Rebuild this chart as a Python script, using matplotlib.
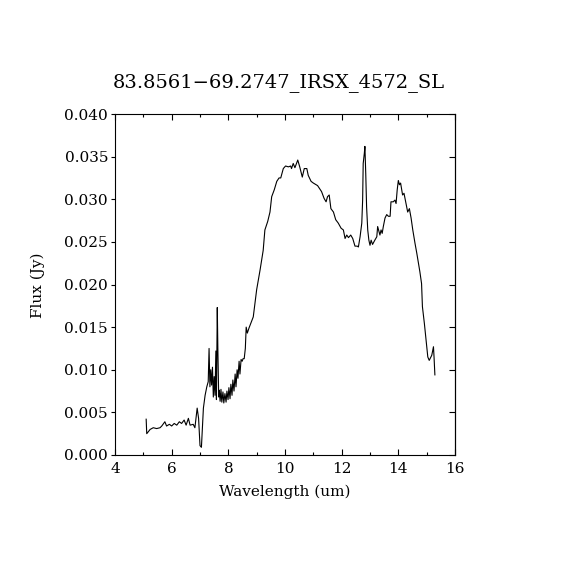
import matplotlib
matplotlib.use('Agg')
import matplotlib.pyplot as plt
from matplotlib.ticker import MultipleLocator, FormatStrFormatter

# Spectrum (wavelength in um, flux in Jy)
wavelength = [
    5.10, 5.12, 5.24, 5.35, 5.47, 5.59, 5.65, 5.76, 5.82, 5.92,
    6.00, 6.09, 6.18, 6.27, 6.35, 6.44, 6.51, 6.59, 6.65, 6.76,
    6.82, 6.90, 6.95, 7.00, 7.05, 7.08, 7.12, 7.18, 7.24, 7.29,
    7.32, 7.35, 7.38, 7.41, 7.44, 7.47, 7.50, 7.53, 7.56, 7.58,
    7.61, 7.63, 7.66, 7.68, 7.71, 7.74, 7.77, 7.81, 7.84, 7.88,
    7.92, 7.95, 7.99, 8.02, 8.06, 8.09, 8.13, 8.16, 8.20, 8.24,
    8.27, 8.31, 8.34, 8.38, 8.41, 8.45, 8.49, 8.52, 8.56, 8.60,
    8.63, 8.67, 8.73, 8.88, 9.00, 9.12, 9.23, 9.29, 9.39, 9.47,
    9.53, 9.62, 9.71, 9.79, 9.85, 9.94, 10.02, 10.12, 10.20, 10.23,
    10.29, 10.35, 10.45, 10.52, 10.61, 10.68, 10.77, 10.82, 10.92, 11.00,
    11.15, 11.29, 11.38, 11.45, 11.50, 11.56, 11.62, 11.71, 11.79, 11.88,
    11.98, 12.06, 12.12, 12.18, 12.24, 12.32, 12.39, 12.47, 12.55, 12.59,
    12.65, 12.71, 12.74, 12.76, 12.80, 12.82, 12.85, 12.88, 12.92, 12.96,
    13.00, 13.04, 13.09, 13.17, 13.24, 13.27, 13.32, 13.35, 13.39, 13.43,
    13.47, 13.53, 13.59, 13.65, 13.71, 13.74, 13.82, 13.88, 13.92, 13.96,
    14.00, 14.04, 14.08, 14.15, 14.20, 14.27, 14.33, 14.39, 14.45, 14.51,
    14.59, 14.65, 14.70, 14.76, 14.82, 14.85, 14.92, 14.98, 15.04, 15.09,
    15.12, 15.18, 15.24, 15.26, 15.29,
]
flux = [
    0.0042, 0.0025, 0.0030, 0.0032, 0.0031, 0.0032, 0.0034, 0.0039, 0.0034, 0.0036,
    0.0034, 0.0037, 0.0035, 0.0039, 0.0037, 0.0041, 0.0035, 0.0043, 0.0035, 0.0036,
    0.0032, 0.0055, 0.0043, 0.0011, 0.0009, 0.0029, 0.0055, 0.0070, 0.0080, 0.0086,
    0.0125, 0.0080, 0.0100, 0.0082, 0.0103, 0.0068, 0.0092, 0.0070, 0.0122, 0.0065,
    0.0173, 0.0125, 0.0068, 0.0076, 0.0063, 0.0077, 0.0062, 0.0074, 0.0061, 0.0072,
    0.0062, 0.0075, 0.0065, 0.0079, 0.0066, 0.0083, 0.0070, 0.0088, 0.0075, 0.0095,
    0.0080, 0.0100, 0.0090, 0.0110, 0.0095, 0.0112, 0.0110, 0.0113, 0.0113, 0.0125,
    0.0150, 0.0143, 0.0149, 0.0162, 0.0194, 0.0217, 0.0240, 0.0264, 0.0274, 0.0285,
    0.0303, 0.0311, 0.0321, 0.0325, 0.0325, 0.0336, 0.0339, 0.0338, 0.0339, 0.0336,
    0.0342, 0.0337, 0.0346, 0.0338, 0.0326, 0.0336, 0.0336, 0.0328, 0.0321, 0.0319,
    0.0316, 0.0309, 0.0301, 0.0297, 0.0303, 0.0305, 0.0289, 0.0285, 0.0276, 0.0272,
    0.0266, 0.0264, 0.0254, 0.0258, 0.0255, 0.0258, 0.0254, 0.0245, 0.0245, 0.0244,
    0.0256, 0.0272, 0.0299, 0.0342, 0.0354, 0.0362, 0.0330, 0.0291, 0.0264, 0.0252,
    0.0246, 0.0252, 0.0247, 0.0252, 0.0256, 0.0268, 0.0262, 0.0258, 0.0264, 0.0260,
    0.0268, 0.0278, 0.0282, 0.0280, 0.0280, 0.0297, 0.0297, 0.0299, 0.0295, 0.0311,
    0.0322, 0.0317, 0.0319, 0.0305, 0.0307, 0.0295, 0.0285, 0.0289, 0.0278, 0.0264,
    0.0248, 0.0237, 0.0227, 0.0215, 0.0201, 0.0174, 0.0154, 0.0135, 0.0115, 0.0111,
    0.0113, 0.0117, 0.0127, 0.0115, 0.0094,
]

title = '83.8561\u221269.2747_IRSX_4572_SL'

plt.rcParams['font.family'] = ['DejaVu Serif']

fig = plt.figure(figsize=(5.7, 5.7), dpi=100)
ax = fig.add_axes([115 / 570, 115 / 570, 340 / 570, 341 / 570])

ax.plot(wavelength, flux, color='black', linewidth=0.8)

ax.set_xlim(4, 16)
ax.set_ylim(0, 0.04)

ax.xaxis.set_major_locator(MultipleLocator(2))
ax.xaxis.set_minor_locator(MultipleLocator(1))
ax.yaxis.set_major_locator(MultipleLocator(0.005))
ax.yaxis.set_major_formatter(FormatStrFormatter('%.3f'))

# bottom/top ticks point inward, left ticks outward
ax.tick_params(axis='x', which='major', direction='in', length=4, width=0.8,
               top=True, bottom=True, labelsize=11, pad=5)
ax.tick_params(axis='x', which='minor', direction='in', length=2, width=0.8,
               top=True, bottom=True)
ax.tick_params(axis='y', which='major', direction='out', length=3, width=0.8,
               left=True, right=False, labelsize=11, pad=2)

# right side ticks inward, no labels
right = ax.secondary_yaxis('right')
right.yaxis.set_major_locator(MultipleLocator(0.005))
right.tick_params(axis='y', direction='in', length=4, width=0.8, labelright=False)
right.spines['right'].set_linewidth(0.8)

for sp in ax.spines.values():
    sp.set_linewidth(0.8)

fig.text(0.49, 0.856, title, ha='center', va='center', fontsize=14)
fig.text(0.5, 0.137, 'Wavelength (um)', ha='center', va='center', fontsize=11)
fig.text(0.067, 0.5, 'Flux (Jy)', ha='center', va='center', rotation=90, fontsize=11)

fig.savefig('out.png', dpi=100, facecolor='white')
